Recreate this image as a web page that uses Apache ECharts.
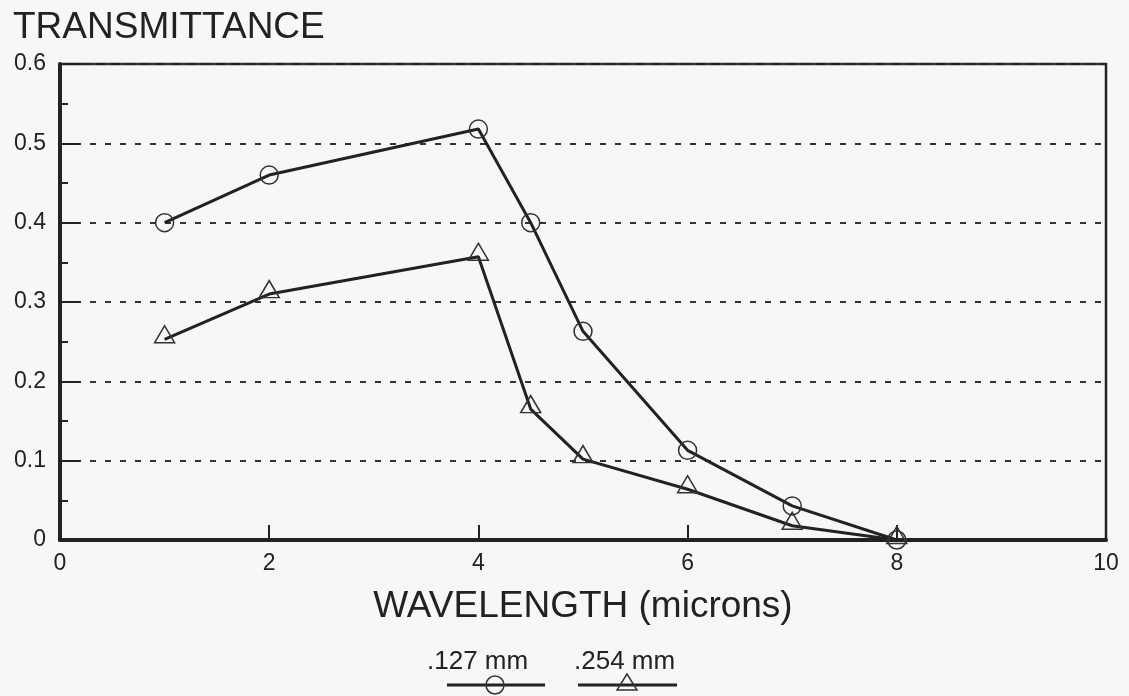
<!DOCTYPE html>
<html>
<head>
<meta charset="utf-8">
<style>
  html, body { margin: 0; padding: 0; background: #f7f7f5; }
  #chart { width: 1129px; height: 696px; }
</style>
<script src="https://cdn.jsdelivr.net/npm/echarts@6/dist/echarts.min.js"></script>
</head>
<body>
<div id="chart"></div>
<script>
// wavelength (microns) and transmittance
var wavelength = [1, 2, 4, 4.5, 5, 6, 7, 8];
var thin127 = [0.40, 0.46, 0.518, 0.40, 0.263, 0.113, 0.043, 0];
var thick254 = [0.253, 0.31, 0.357, 0.165, 0.102, 0.064, 0.018, 0];
var seriesNames = ['.127 mm', '.254 mm'];

function pairs(ys) {
    return wavelength.map(function (x, i) { return [x, ys[i]]; });
}

var ink = '#222';
var font = 'Liberation Sans, Arial, sans-serif';

var myChart = echarts.init(document.getElementById('chart'));
var option = {
    backgroundColor: '#f7f7f5',
    animation: false,
    title: {
        text: 'TRANSMITTANCE',
        left: 8,
        top: 4,
        textStyle: { fontFamily: font, fontSize: 37, fontWeight: 'normal', color: ink }
    },
    grid: {
        left: 60,
        right: 23,
        top: 64,
        bottom: 156,
        show: true,
        borderColor: ink,
        borderWidth: 2.5,
        backgroundColor: 'transparent'
    },
    xAxis: {
        type: 'value',
        min: 0,
        max: 10,
        interval: 2,
        name: 'WAVELENGTH (microns)',
        nameLocation: 'middle',
        nameGap: 48,
        nameTextStyle: { fontFamily: font, fontSize: 37, color: ink },
        axisLine: { show: true, lineStyle: { color: ink, width: 4 } },
        axisTick: { show: true, inside: true, length: 15, lineStyle: { color: ink, width: 2 } },
        axisLabel: { fontFamily: font, fontSize: 23, color: ink, margin: 12 },
        splitLine: { show: false }
    },
    yAxis: {
        type: 'value',
        min: 0,
        max: 0.6,
        interval: 0.1,
        axisLine: { show: true, lineStyle: { color: ink, width: 4 } },
        axisTick: { show: true, inside: true, length: 20, lineStyle: { color: ink, width: 2 } },
        minorTick: { show: true, splitNumber: 2, length: 8, lineStyle: { color: ink, width: 2 } },
        axisLabel: {
            fontFamily: font, fontSize: 23, color: ink, margin: 14,
            formatter: function (v) { return v === 0 ? '0' : v.toFixed(1); }
        },
        splitLine: {
            show: true,
            lineStyle: { color: '#333', width: 2, type: [6, 9] }
        }
    },
    series: [
        {
            name: seriesNames[0],
            type: 'line',
            data: pairs(thin127),
            symbol: 'circle',
            symbolSize: 18,
            showAllSymbol: true,
            lineStyle: { color: ink, width: 3 },
            itemStyle: { color: 'rgba(0,0,0,0)', borderColor: '#333', borderWidth: 1.5 },
            z: 3
        },
        {
            name: seriesNames[1],
            type: 'line',
            data: pairs(thick254),
            symbol: 'triangle',
            symbolSize: [20, 17],
            symbolOffset: [0, -5],
            showAllSymbol: true,
            lineStyle: { color: ink, width: 3 },
            itemStyle: { color: 'rgba(0,0,0,0)', borderColor: '#333', borderWidth: 1.5 },
            z: 3
        }
    ],
    graphic: [
        { type: 'text', left: 427, top: 649, style: { text: seriesNames[0], font: '26px ' + font, fill: ink } },
        { type: 'line', shape: { x1: 447, y1: 685, x2: 545, y2: 685 }, style: { stroke: ink, lineWidth: 3 } },
        { type: 'circle', shape: { cx: 495, cy: 685, r: 9 }, style: { fill: 'none', stroke: '#333', lineWidth: 1.5 } },
        { type: 'text', left: 574, top: 649, style: { text: seriesNames[1], font: '26px ' + font, fill: ink } },
        { type: 'line', shape: { x1: 578, y1: 685, x2: 677, y2: 685 }, style: { stroke: ink, lineWidth: 3 } },
        { type: 'polygon', shape: { points: [[627, 674], [617, 690], [637, 690]] }, style: { fill: 'none', stroke: '#333', lineWidth: 1.5 } }
    ]
};
myChart.setOption(option);
window.addEventListener('resize', function () { myChart.resize(); });
</script>
</body>
</html>
